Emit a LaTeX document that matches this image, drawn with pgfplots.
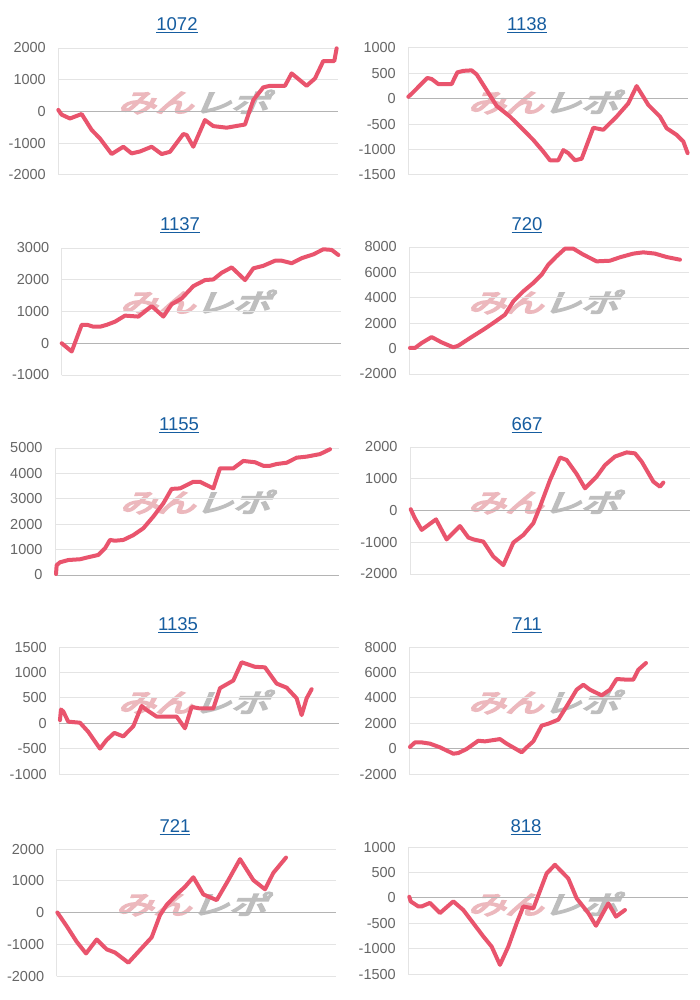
\documentclass[border=0pt]{standalone}
\usepackage{fontspec}
\setmainfont{Liberation Sans}
\newfontfamily\wm[FakeSlant=0.3]{Noto Sans CJK JP}
\usepackage{pgfplots}
\pgfplotsset{compat=1.18}
\definecolor{linec}{RGB}{233,84,109}
\definecolor{gridc}{RGB}{228,228,228}
\definecolor{zeroc}{RGB}{180,180,180}
\definecolor{tickc}{RGB}{102,102,102}
\definecolor{titlec}{RGB}{22,93,160}
\definecolor{wmpink}{RGB}{236,184,189}
\definecolor{wmgray}{RGB}{190,190,190}
\pgfplotsset{
  panel/.style={
    scale only axis, anchor=south west, clip=false,
    axis x line*=bottom, axis y line*=left,
    axis line style={draw=gridc, line width=1pt, -},
    ymajorgrids, major grid style={draw=gridc, line width=1pt},
    xtick=\empty, tick style={draw=none}, major tick length=0pt,
    yticklabel style={font=\fontsize{14.5}{14.5}\selectfont, text=tickc, xshift=-9pt},
    /pgf/number format/.cd, 1000 sep={}, assume math mode=true,
    /pgfplots/.cd,
    extra y ticks={0}, extra y tick labels={},
    extra y tick style={major grid style={draw=zeroc, line width=1pt}},
  },
  pline/.style={draw=linec, line width=4pt, line join=round, line cap=round, mark=none},
}
\newcommand{\wmark}[2]{%
    \node[inner sep=0] at (#1pt,#2pt) {\fontsize{26}{26}\selectfont\scalebox{1.45}[1]{\special{pdf:literal direct 2 Tr 1.6 w}\wm{\color{wmpink}みん}{\color{wmgray}レポ}\special{pdf:literal direct 0 Tr}}};}
\newcommand{\ttl}[3]{\node[inner sep=0, text=titlec, font=\fontsize{18.5}{18.5}\selectfont] at (#1pt,#2pt) {\underline{#3}};}
\begin{document}
\begin{tikzpicture}
\path[use as bounding box] (0pt,0pt) rectangle (700pt,-1000pt);
\fill[white] (0pt,0pt) rectangle (700pt,-1000pt);
% watermarks
\wmark{193}{-102}\wmark{543}{-102}
\wmark{195}{-302}\wmark{543}{-302}
\wmark{195}{-502}\wmark{543}{-502}
\wmark{193}{-702}\wmark{543}{-702}
\wmark{191}{-904}\wmark{543}{-904}
% titles
\ttl{177}{-25}{1072}\ttl{527}{-25}{1138}
\ttl{180}{-225}{1137}\ttl{527}{-225}{720}
\ttl{179}{-425}{1155}\ttl{527}{-425}{667}
\ttl{178}{-625}{1135}\ttl{527}{-625}{711}
\ttl{175}{-827}{721}\ttl{526}{-827}{818}

% 1072
\begin{axis}[panel, at={(58.3pt,-175pt)}, width=280pt, height=127pt, xmin=175, xmax=1015, ymin=-2000, ymax=2000, ytick distance=1000]
\addplot[pline] coordinates {(175,50) (185,-100) (210,-220) (245,-80) (275,-580) (300,-850) (335,-1340) (370,-1110) (395,-1320) (420,-1260) (455,-1110) (485,-1340) (510,-1270) (550,-710) (560,-740) (580,-1110) (615,-270) (640,-460) (680,-510) (735,-410) (760,360) (790,760) (810,810) (855,810) (875,1200) (920,810) (945,1040) (970,1590) (1003,1590) (1010,1990)};
\end{axis}
% 1138
\begin{axis}[panel, at={(408.3pt,-175pt)}, width=280pt, height=127pt, xmin=175, xmax=1015, ymin=-1500, ymax=1000, ytick distance=500]
\addplot[pline] coordinates {(175,40) (185,100) (232,410) (245,390) (265,290) (305,290) (322,520) (340,550) (365,560) (380,480) (410,170) (440,-140) (480,-350) (520,-610) (550,-810) (580,-1040) (600,-1210) (625,-1210) (640,-1010) (655,-1070) (675,-1210) (695,-1180) (730,-570) (760,-610) (800,-350) (835,-90) (860,250) (880,40) (895,-120) (930,-350) (950,-580) (980,-710) (1000,-840) (1013,-1070)};
\end{axis}
% 1137
\begin{axis}[panel, at={(61.7pt,-375pt)}, width=279pt, height=127pt, xmin=185, xmax=1022, ymin=-1000, ymax=3000, ytick distance=1000]
\addplot[pline] coordinates {(185,0) (200,-130) (215,-260) (245,580) (262,580) (280,520) (300,520) (320,580) (345,680) (375,870) (415,840) (455,1170) (490,840) (515,1230) (545,1410) (580,1800) (615,1990) (640,2010) (665,2220) (695,2390) (735,1990) (760,2360) (790,2440) (825,2600) (845,2600) (875,2520) (905,2680) (940,2800) (970,2960) (995,2940) (1015,2780)};
\end{axis}
% 720
\begin{axis}[panel, at={(409.3pt,-374pt)}, width=280pt, height=127pt, xmin=178, xmax=1018, ymin=-2000, ymax=8000, ytick distance=2000]
\addplot[pline] coordinates {(180,50) (195,50) (215,440) (245,910) (275,490) (310,100) (325,230) (360,830) (400,1490) (430,2020) (465,2670) (490,3720) (520,4510) (550,5170) (575,5820) (595,6610) (620,7270) (645,7870) (670,7870) (700,7400) (740,6870) (780,6920) (810,7190) (850,7480) (880,7580) (915,7480) (950,7210) (990,7000)};
\end{axis}
% 1155
\begin{axis}[panel, at={(55pt,-575pt)}, width=284.3pt, height=127pt, xmin=165, xmax=1018, ymin=0, ymax=5000, ytick distance=1000]
\addplot[pline] coordinates {(168,40) (170,390) (180,500) (205,590) (240,620) (265,700) (295,790) (315,1050) (330,1380) (345,1350) (370,1380) (400,1570) (430,1840) (460,2300) (490,2820) (515,3390) (540,3410) (580,3670) (600,3670) (640,3410) (660,4200) (700,4200) (730,4490) (765,4440) (790,4300) (810,4300) (830,4370) (860,4420) (890,4620) (920,4660) (960,4760) (990,4950)};
\end{axis}
% 667
\begin{axis}[panel, at={(410pt,-574pt)}, width=280pt, height=127pt, xmin=180, xmax=1020, ymin=-2000, ymax=2000, ytick distance=1000]
\addplot[pline] coordinates {(182,40) (195,-250) (215,-610) (258,-280) (290,-910) (330,-490) (355,-850) (370,-910) (400,-980) (430,-1450) (460,-1720) (490,-1010) (520,-770) (550,-400) (570,120) (600,960) (630,1670) (650,1590) (680,1150) (705,700) (740,1070) (765,1430) (795,1700) (830,1830) (855,1800) (875,1540) (910,910) (930,750) (940,880)};
\end{axis}
% 1135
\begin{axis}[panel, at={(59.3pt,-774pt)}, width=280pt, height=127pt, xmin=178, xmax=1018, ymin=-1000, ymax=1500, ytick distance=500]
\addplot[pline] coordinates {(180,60) (183,270) (190,230) (205,30) (240,10) (265,-170) (300,-500) (320,-330) (343,-190) (370,-260) (400,-60) (425,340) (440,260) (470,130) (530,130) (555,-100) (575,320) (600,290) (640,290) (660,690) (700,840) (725,1200) (765,1110) (795,1100) (830,780) (860,700) (890,490) (905,160) (920,490) (935,670)};
\end{axis}
% 711
\begin{axis}[panel, at={(409.3pt,-774pt)}, width=280pt, height=127pt, xmin=178, xmax=1018, ymin=-2000, ymax=8000, ytick distance=2000]
\addplot[pline] coordinates {(180,130) (195,490) (215,490) (240,390) (270,100) (310,-400) (325,-350) (350,-30) (385,620) (405,570) (450,750) (470,390) (515,-290) (530,100) (550,570) (575,1810) (595,1960) (625,2280) (650,3330) (680,4640) (700,5030) (720,4640) (755,4190) (780,4640) (800,5480) (830,5430) (850,5430) (865,6210) (888,6740)};
\end{axis}
% 721
\begin{axis}[panel, at={(56.7pt,-976pt)}, width=279.3pt, height=127pt, xmin=170, xmax=1008, ymin=-2000, ymax=2000, ytick distance=1000]
\addplot[pline] coordinates {(172,0) (200,-430) (230,-920) (258,-1290) (290,-850) (320,-1160) (345,-1260) (385,-1580) (420,-1180) (455,-780) (480,-80) (500,240) (530,570) (555,810) (580,1110) (610,570) (650,390) (685,1020) (720,1680) (760,1020) (795,730) (820,1250) (858,1730)};
\end{axis}
% 818
\begin{axis}[panel, at={(408.3pt,-974pt)}, width=280pt, height=127pt, xmin=175, xmax=1015, ymin=-1500, ymax=1000, ytick distance=500]
\addplot[pline] coordinates {(178,20) (182,-70) (205,-170) (215,-170) (240,-100) (270,-300) (310,-70) (340,-240) (370,-500) (400,-760) (425,-960) (450,-1320) (475,-960) (500,-500) (520,-170) (550,-210) (590,480) (615,650) (655,380) (680,-10) (715,-300) (738,-550) (775,-110) (798,-370) (825,-240)};
\end{axis}
\end{tikzpicture}
\end{document}
